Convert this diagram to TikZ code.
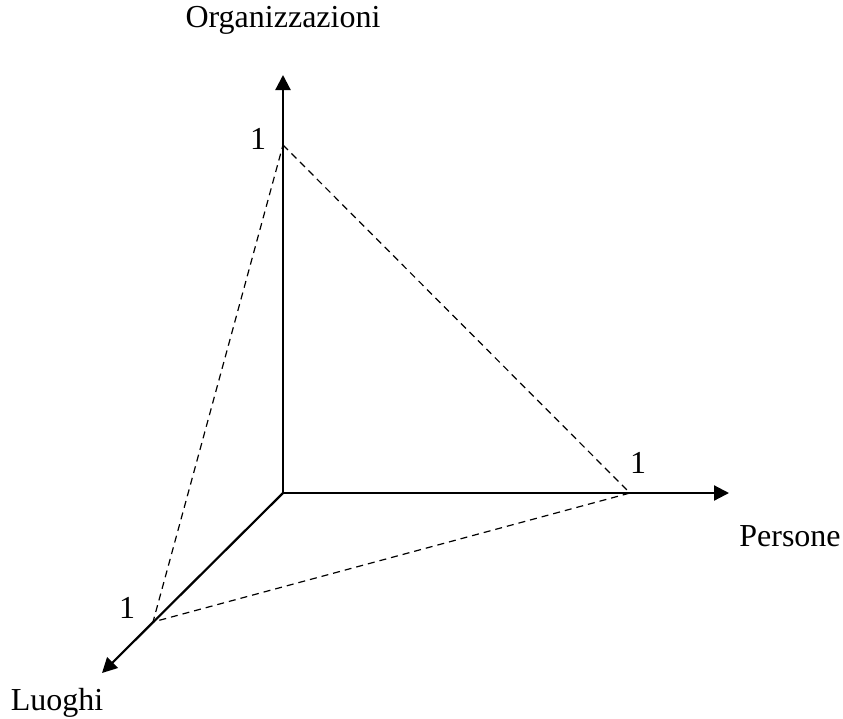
\documentclass[tikz,border=0pt]{standalone}
\usepackage{fontspec}
\setmainfont{Liberation Serif}
\usetikzlibrary{arrows.meta,positioning}

\tikzset{
  axis/.style={line width=2.2pt, -{Triangle[length=15pt,width=15pt]}},
  guide/.style={line width=1.2pt, dash pattern=on 7pt off 5pt},
  lbl/.style={font=\fontsize{32}{36}\selectfont, inner sep=0pt}
}

\begin{document}
\begin{tikzpicture}[x=1pt, y=-1pt]
\useasboundingbox (0,0) rectangle (843,718);
% axes
\coordinate (O) at (283,493);
\coordinate (org) at (283,75);
\coordinate (per) at (729,493);
\coordinate (luo) at (102,673);
\draw[axis] (O) -- (org);
\draw[axis] (O) -- (per);
\draw[axis, shorten <=-1pt] (O) -- (luo);
% unit points
\coordinate (u1) at (283,145);
\coordinate (u2) at (630,493);
\coordinate (u3) at (153,622);
\draw[guide] (u1) -- (u2) -- (u3) -- cycle;
% labels
\node[lbl] (Lorg) at (283,20) {Organizzazioni};
\node[lbl] (Lper) at (790,536) {Persone};
\node[lbl] (Lluo) at (57,703) {Luoghi};
\node[lbl] (n1) at (258,139) {1};
\node[lbl] (n2) at (638,463) {1};
\node[lbl] (n3) at (127,608) {1};
\end{tikzpicture}
\end{document}
